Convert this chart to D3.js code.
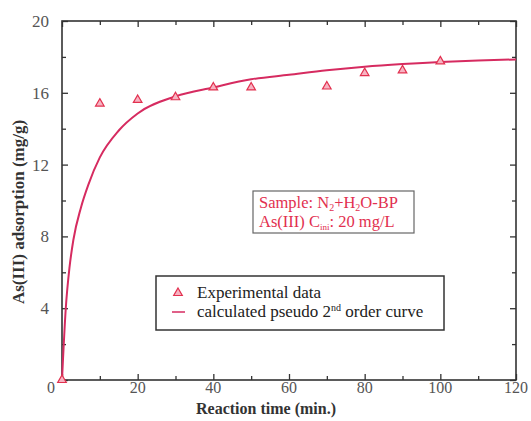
<!DOCTYPE html>
<html>
<head>
<meta charset="utf-8">
<script src="https://cdn.jsdelivr.net/npm/d3@7"></script>
<style>
  body { margin: 0; background: #fff; }
</style>
</head>
<body>
<div id="chart"></div>
<script>
// --- data ---
var expTime = [0, 10, 20, 30, 40, 50, 70, 80, 90, 100];
var expValue = [0, 15.4, 15.6, 15.75, 16.3, 16.3, 16.35, 17.1, 17.25, 17.75];

var curveTime = [0, 1, 2, 3, 5, 7, 10, 15, 20, 30, 40, 50, 60, 70, 80, 90, 100, 110, 120];
var curveValue = [0, 4.0, 6.3, 7.8, 9.6, 10.9, 12.4, 13.9, 14.85, 15.8, 16.3, 16.75, 17.0, 17.25, 17.45, 17.6, 17.72, 17.8, 17.86];

var xMajor = [0, 20, 40, 60, 80, 100, 120];
var xMinor = [10, 30, 50, 70, 90, 110];
var yMajor = [0, 4, 8, 12, 16, 20];
var yMinor = [2, 6, 10, 14, 18];

var Config = {
    Width: 531,
    Height: 421,
    Left: 62,
    Right: 516,
    Top: 21,
    Bottom: 380,
    Red: '#e2304f',
    CurveColor: '#d62b60',
    Font: '"Liberation Serif", "Times New Roman", Times, serif'
};

var svg = d3.select('#chart').append('svg')
    .attr('width', Config.Width)
    .attr('height', Config.Height)
    .style('font-family', Config.Font);

var x = d3.scaleLinear().domain([0, 120]).range([Config.Left, Config.Right]);
var y = d3.scaleLinear().domain([0, 20]).range([Config.Bottom, Config.Top]);

// --- axes with inward ticks on all four sides ---
function tickAxis(axisFn, scale, values, size, transform) {
    svg.append('g')
        .attr('transform', transform)
        .call(axisFn(scale).tickValues(values).tickSize(size).tickFormat(''))
        .call(function (g) { g.select('.domain').remove(); })
        .selectAll('line').attr('stroke', '#333').attr('stroke-width', 1.3);
}

tickAxis(d3.axisTop, x, xMajor, 6, 'translate(0,' + Config.Bottom + ')');
tickAxis(d3.axisTop, x, xMinor, 4, 'translate(0,' + Config.Bottom + ')');
tickAxis(d3.axisBottom, x, xMajor, 6, 'translate(0,' + Config.Top + ')');
tickAxis(d3.axisBottom, x, xMinor, 4, 'translate(0,' + Config.Top + ')');
tickAxis(d3.axisRight, y, yMajor, 6, 'translate(' + Config.Left + ',0)');
tickAxis(d3.axisRight, y, yMinor, 4, 'translate(' + Config.Left + ',0)');
tickAxis(d3.axisLeft, y, yMajor, 6, 'translate(' + Config.Right + ',0)');
tickAxis(d3.axisLeft, y, yMinor, 4, 'translate(' + Config.Right + ',0)');

// frame
svg.append('rect')
    .attr('x', Config.Left)
    .attr('y', Config.Top)
    .attr('width', Config.Right - Config.Left)
    .attr('height', Config.Bottom - Config.Top)
    .attr('fill', 'none')
    .attr('stroke', '#333')
    .attr('stroke-width', 1.6);

// tick labels
svg.append('g').selectAll('text')
    .data(xMajor.filter(function (d) { return d > 0; }))
    .enter().append('text')
    .attr('x', function (d) { return x(d); })
    .attr('y', Config.Bottom + 13)
    .attr('text-anchor', 'middle')
    .attr('font-family', Config.Font)
    .attr('font-size', '16px')
    .attr('fill', '#555')
    .text(function (d) { return d; });

svg.append('g').selectAll('text')
    .data(yMajor.filter(function (d) { return d > 0; }))
    .enter().append('text')
    .attr('x', 49)
    .attr('y', function (d) { return y(d) + 6; })
    .attr('text-anchor', 'end')
    .attr('font-family', Config.Font)
    .attr('font-size', '17px')
    .attr('fill', '#555')
    .text(function (d) { return d; });

// shared origin label
svg.append('text')
    .attr('x', 51)
    .attr('y', Config.Bottom + 13)
    .attr('text-anchor', 'middle')
    .attr('font-family', Config.Font)
    .attr('font-size', '16px')
    .attr('fill', '#555')
    .text('0');

// axis titles
svg.append('text')
    .attr('x', 266)
    .attr('y', 414)
    .attr('text-anchor', 'middle')
    .attr('font-family', Config.Font)
    .attr('font-size', '16px')
    .attr('font-weight', 'bold')
    .attr('fill', '#333')
    .text('Reaction time (min.)');

svg.append('text')
    .attr('transform', 'translate(24,212) rotate(-90)')
    .attr('text-anchor', 'middle')
    .attr('font-family', Config.Font)
    .attr('font-size', '17px')
    .attr('font-weight', 'bold')
    .attr('fill', '#333')
    .text('As(III) adsorption (mg/g)');

// --- fitted curve ---
var line = d3.line()
    .x(function (d, i) { return x(curveTime[i]); })
    .y(function (d) { return y(d); })
    .curve(d3.curveMonotoneX);

svg.append('path')
    .datum(curveValue)
    .attr('d', line)
    .attr('fill', 'none')
    .attr('stroke', Config.CurveColor)
    .attr('stroke-width', 2);

// --- experimental points ---
var tri = d3.symbol().type(d3.symbolTriangle).size(32);

svg.append('g').selectAll('path')
    .data(expValue)
    .enter().append('path')
    .attr('d', tri)
    .attr('transform', function (d, i) { return 'translate(' + x(expTime[i]) + ',' + y(d) + ')'; })
    .attr('fill', '#f7b3c2')
    .attr('stroke', Config.Red)
    .attr('stroke-width', 1.2);

// --- sample annotation box ---
var note = svg.append('g');
note.append('rect')
    .attr('x', 253).attr('y', 191)
    .attr('width', 161).attr('height', 42)
    .attr('fill', '#fff')
    .attr('stroke', '#666')
    .attr('stroke-width', 1.2);

var t1 = note.append('text')
    .attr('x', 259).attr('y', 208)
    .attr('font-family', Config.Font)
    .attr('font-size', '16.5px')
    .attr('fill', Config.Red);
t1.append('tspan').text('Sample: N');
t1.append('tspan').attr('font-size', '10px').attr('dy', 3).text('2');
t1.append('tspan').attr('dy', -3).text('+H');
t1.append('tspan').attr('font-size', '10px').attr('dy', 3).text('2');
t1.append('tspan').attr('dy', -3).text('O-BP');

var t2 = note.append('text')
    .attr('x', 259).attr('y', 227)
    .attr('font-family', Config.Font)
    .attr('font-size', '16.5px')
    .attr('fill', Config.Red);
t2.append('tspan').text('As(III) C');
t2.append('tspan').attr('font-size', '9px').attr('dy', 3).text('ini');
t2.append('tspan').attr('dy', -3).text(': 20 mg/L');

// --- legend ---
var legend = svg.append('g');
legend.append('rect')
    .attr('x', 156).attr('y', 276)
    .attr('width', 288).attr('height', 54)
    .attr('fill', '#fff')
    .attr('stroke', '#333')
    .attr('stroke-width', 1.5);

legend.append('path')
    .attr('d', tri)
    .attr('transform', 'translate(178,293)')
    .attr('fill', '#f7b3c2')
    .attr('stroke', Config.Red)
    .attr('stroke-width', 1.2);

legend.append('line')
    .attr('x1', 172).attr('x2', 185)
    .attr('y1', 312).attr('y2', 312)
    .attr('stroke', Config.CurveColor)
    .attr('stroke-width', 1.5);

legend.append('text')
    .attr('x', 197).attr('y', 298)
    .attr('font-family', Config.Font)
    .attr('font-size', '17px')
    .attr('fill', '#222')
    .text('Experimental data');

var lt = legend.append('text')
    .attr('x', 197).attr('y', 317)
    .attr('font-family', Config.Font)
    .attr('font-size', '17px')
    .attr('fill', '#222');
lt.append('tspan').text('calculated pseudo 2');
lt.append('tspan').attr('font-size', '10px').attr('dy', -6).text('nd');
lt.append('tspan').attr('dy', 6).text(' order curve');
</script>
</body>
</html>
